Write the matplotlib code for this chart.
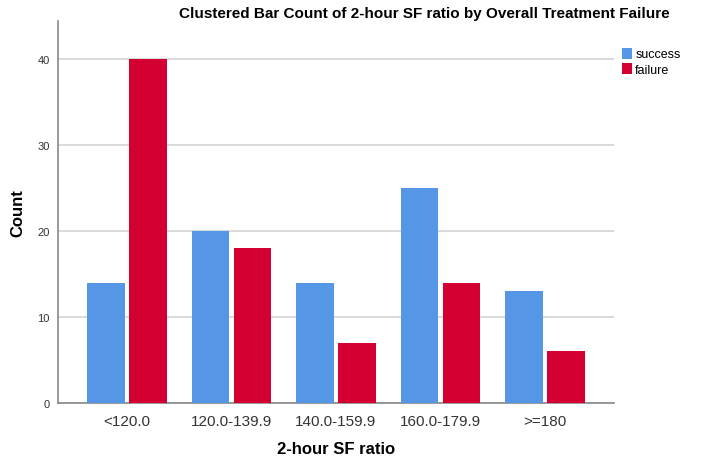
import matplotlib
matplotlib.use("Agg")
import matplotlib.pyplot as plt
import numpy as np

categories = ["<120.0", "120.0-139.9", "140.0-159.9", "160.0-179.9", ">=180"]
success = [14, 20, 14, 25, 13]
failure = [40, 18, 7, 14, 6]

plt.rcParams['font.family'] = ['Liberation Sans', 'DejaVu Sans']

fig = plt.figure(figsize=(7.02, 4.60), dpi=100)
ax = fig.add_axes([58/702, 56/460, (614-58)/702, (404-22)/460])

x = np.arange(len(categories))
w = 0.36
off = 0.2
ax.bar(x - off, success, w, color="#5596E6", label="success", zorder=3)
ax.bar(x + off, failure, w, color="#D50032", label="failure", zorder=3)

ax.set_xlim(-0.66, 4.66)
ax.set_ylim(0, 44.4)
ax.set_yticks([0, 10, 20, 30, 40])
ax.yaxis.grid(True, color="#d4d4d4", linewidth=1.2, zorder=0)
ax.set_axisbelow(True)
ax.set_xticks(x)
ax.set_xticklabels(categories, fontsize=11, color="#333333")
ax.tick_params(axis='y', labelsize=8, length=0, pad=6, colors="#333333")
ax.tick_params(axis='x', length=0, pad=8)

for s in ["top", "right"]:
    ax.spines[s].set_visible(False)
for s in ["left", "bottom"]:
    ax.spines[s].set_color("#888888")
    ax.spines[s].set_linewidth(1.2)

ax.set_ylabel("Count", fontsize=12, fontweight="bold")
ax.set_xlabel("2-hour SF ratio", fontsize=12, fontweight="bold")
# place labels in figure pixel positions
ax.yaxis.set_label_coords((18 - 58) / (614 - 58), 0.5)
ax.xaxis.set_label_coords(0.5, -(450 - 404) / (404 - 22))
ax.yaxis.label.set_va("center")
ax.xaxis.label.set_va("center")

fig.text(0.605, 0.97, "Clustered Bar Count of 2-hour SF ratio by Overall Treatment Failure",
         ha="center", va="center", fontsize=11, fontweight="bold")

leg = ax.legend(loc="upper left", bbox_to_anchor=(1.0, 0.95), frameon=False,
                fontsize=9, handlelength=0.8, handleheight=1.0, handletextpad=0.3,
                labelspacing=0.2, borderaxespad=0.2)

fig.savefig("out.png", dpi=100)
